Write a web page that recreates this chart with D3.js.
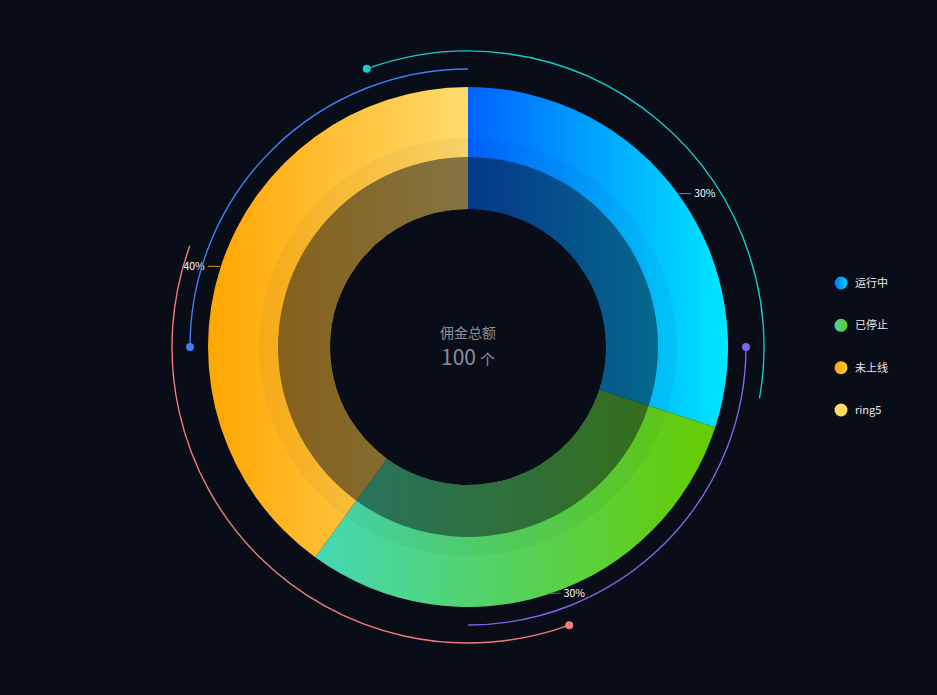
<!DOCTYPE html>
<html><head><meta charset="utf-8">
<script src="https://cdn.jsdelivr.net/npm/d3@7"></script>
<style>html,body{margin:0;padding:0;background:#090d18;}svg{display:block;}</style>
</head><body>
<svg id="c" width="937" height="695"></svg>
<script>
const categories = ["运行中", "已停止", "未上线"];
const values = [30, 30, 40];
const legendLabels = ["运行中", "已停止", "未上线", "ring5"];
const gradStops = [["#0062ff", "#00e8ff"], ["#45d8b6", "#66cc00"], ["#ffa600", "#ffdb6e"]];
const legendColors = [["#0070ff", "#00d4ff"], ["#3ed8a8", "#66cc11"], ["#ffa500", "#ffcd4a"], ["#ffdb66", "#ffdb66"]];
const centerTitle = "佣金总额";
const centerValue = 100;
const centerUnit = "个";
// decorative arcs: clock angles in degrees
const decoArcs = [
  {r: 296, a0: -20, a1: 100, color: "#19c9cc", dot: "start"},
  {r: 278, a0: -90, a1: 0, color: "#3f7ef0", dot: "start"},
  {r: 278, a0: 90, a1: 180, color: "#8065e6", dot: "start"},
  {r: 296, a0: 160, a1: 290, color: "#f07c7c", dot: "start"}
];

const svg = d3.select("#c");
const W = 937, H = 695, cx = 468, cy = 347;
svg.append("rect").attr("width", W).attr("height", H).attr("fill", "#090d18");
const defs = svg.append("defs");
gradStops.forEach((s, i) => {
  const g = defs.append("linearGradient").attr("id", "g" + i).attr("x1", 0).attr("y1", 0).attr("x2", 1).attr("y2", 0);
  g.append("stop").attr("offset", 0).attr("stop-color", s[0]);
  g.append("stop").attr("offset", 1).attr("stop-color", s[1]);
});
legendColors.forEach((s, i) => {
  const g = defs.append("linearGradient").attr("id", "lg" + i).attr("x1", 0).attr("y1", 0).attr("x2", 1).attr("y2", 0);
  g.append("stop").attr("offset", 0).attr("stop-color", s[0]);
  g.append("stop").attr("offset", 1).attr("stop-color", s[1]);
});

const g = svg.append("g").attr("transform", `translate(${cx},${cy})`);
const pie = d3.pie().sort(null).value(d => d)(values);
const rIn = 138, rDark = 190, rBand = 209, rOut = 260;
const arcOuter = d3.arc().innerRadius(rIn).outerRadius(rOut);
g.selectAll("path.slice").data(pie).join("path").attr("class", "slice")
  .attr("d", arcOuter).attr("fill", (d, i) => `url(#g${i})`);
// dark inner ring
g.append("path").attr("d", d3.arc().innerRadius(rIn).outerRadius(rDark).startAngle(0).endAngle(2 * Math.PI)())
  .attr("fill", "#090d18").attr("fill-opacity", 0.5);
// faint band
g.append("path").attr("d", d3.arc().innerRadius(rDark).outerRadius(rBand).startAngle(0).endAngle(2 * Math.PI)())
  .attr("fill", "#090d18").attr("fill-opacity", 0.035);

// labels
const labelLineColors = ["#00b8e0", "#3f9a20", "#e09a10"];
pie.forEach((d, i) => {
  const a = (d.startAngle + d.endAngle) / 2;
  const x0 = Math.sin(a) * (rOut + 1), y0 = -Math.cos(a) * (rOut + 1) - (Math.cos(a) < -0.9 ? 2 : 0);
  const right = Math.sin(a) >= 0;
  const x1 = x0 + (right ? 12 : -12);
  g.append("line").attr("x1", x0).attr("y1", y0).attr("x2", x1).attr("y2", y0)
    .attr("stroke", labelLineColors[i]).attr("stroke-width", 1);
  g.append("text").attr("x", x1 + (right ? 3 : -3)).attr("y", y0).attr("dy", "0.35em")
    .attr("text-anchor", right ? "start" : "end")
    .attr("fill", "#ffffff").attr("font-size", 10.5)
    .attr("font-family", "'Noto Sans CJK SC', 'Noto Sans', sans-serif")
    .text(Math.round(d.data / d3.sum(values) * 100) + "%");
});

// decorative arcs
const toRad = a => (a - 90) * Math.PI / 180;
decoArcs.forEach(s => {
  const p = d3.path();
  p.arc(0, 0, s.r, toRad(s.a0), toRad(s.a1), false);
  g.append("path").attr("d", p.toString()).attr("fill", "none").attr("stroke", s.color).attr("stroke-width", 1.4);
  const ad = s.dot === "start" ? s.a0 : s.a1;
  g.append("circle").attr("cx", Math.cos(toRad(ad)) * s.r).attr("cy", Math.sin(toRad(ad)) * s.r)
    .attr("r", 4).attr("fill", s.color);
});

// center text
g.append("text").attr("x", 0).attr("y", -9).attr("text-anchor", "middle")
  .attr("fill", "#8b8f99").attr("font-size", 14)
  .attr("font-family", "'Noto Sans CJK SC', sans-serif").text(centerTitle);
const vt = g.append("text").attr("x", 0).attr("y", 18).attr("text-anchor", "middle")
  .attr("fill", "#8b8f99").attr("font-family", "'Noto Sans CJK SC', sans-serif");
vt.append("tspan").attr("font-size", 21).text(centerValue);
vt.append("tspan").attr("font-size", 15).attr("dx", 4).text(centerUnit);

// legend
const ly = d3.scalePoint().domain(legendLabels).range([283, 410]);
const lg = svg.append("g");
legendLabels.forEach((name, i) => {
  lg.append("circle").attr("cx", 841).attr("cy", ly(name)).attr("r", 6.5).attr("fill", `url(#lg${i})`);
  lg.append("text").attr("x", 855).attr("y", ly(name)).attr("dy", "0.35em")
    .attr("fill", "#e8e8e8").attr("font-size", 11)
    .attr("font-family", "'Noto Sans CJK SC', sans-serif").text(name);
});
</script>
</body></html>
